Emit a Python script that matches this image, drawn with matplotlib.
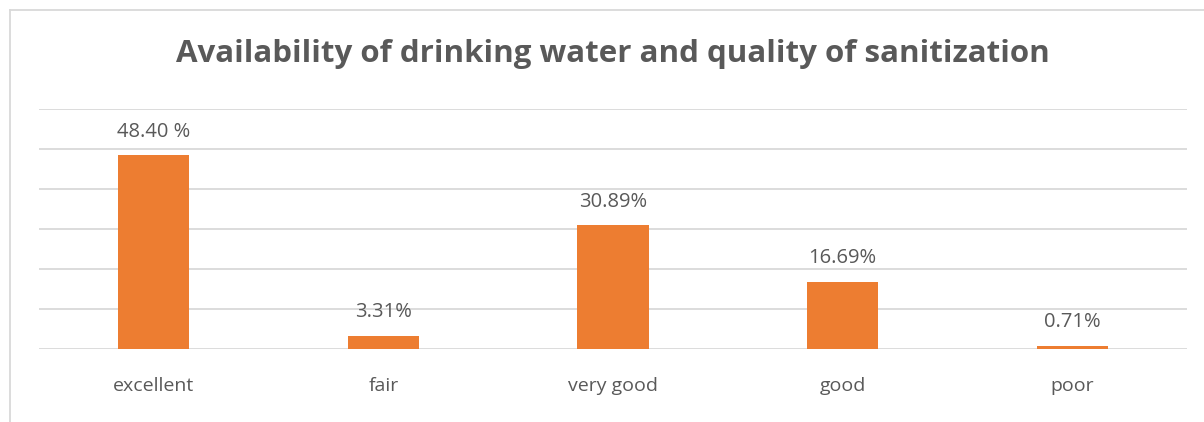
import matplotlib.pyplot as plt
from matplotlib.lines import Line2D

categories = ["excellent", "fair", "very good", "good", "poor"]
values = [48.40, 3.31, 30.89, 16.69, 0.71]
value_labels = ["48.40 %", "3.31%", "30.89%", "16.69%", "0.71%"]

BAR = "#ed7d31"
TXT = "#595959"
GRID = "#d9d9d9"

W, H = 1204, 422
fig = plt.figure(figsize=(W / 100, H / 100), dpi=100)
fig.patch.set_facecolor("white")

ax = fig.add_axes([39 / W, 1 - 349 / H, (1187 - 39) / W, (349 - 109) / H])
x = list(range(len(categories)))
ax.bar(x, values, width=0.31, color=BAR, zorder=3)
ax.set_xlim(-0.5, len(categories) - 0.5)
ax.set_ylim(0, 60)
ax.set_yticks(range(0, 61, 10))
ax.yaxis.grid(True, color=GRID, linewidth=1.3)
ax.set_axisbelow(True)
ax.tick_params(axis="y", left=False, labelleft=False)
ax.tick_params(axis="x", bottom=False, pad=17)
ax.set_xticks(x)
ax.set_xticklabels(categories, fontsize=14, color=TXT, family="Open Sans")
for s in ax.spines.values():
    s.set_visible(False)

for xi, v, lab in zip(x, values, value_labels):
    ax.annotate(lab, (xi, v), xytext=(0, 10), textcoords="offset points",
                ha="center", va="bottom", fontsize=14.5, color=TXT, family="Open Sans")

fig.text(0.509, 1 - 54 / H, "Availability of drinking water and quality of sanitization",
         ha="center", va="center", fontsize=22.5, fontweight="bold", color=TXT, family="Open Sans")

# chart frame (left and top edges visible)
fig.add_artist(Line2D([10 / W, 10 / W], [0, 1 - 10 / H], transform=fig.transFigure,
                      color=GRID, linewidth=1.3))
fig.add_artist(Line2D([10 / W, 1], [1 - 10 / H, 1 - 10 / H], transform=fig.transFigure,
                      color=GRID, linewidth=1.3))

fig.savefig("out.png", dpi=100, facecolor="white")
